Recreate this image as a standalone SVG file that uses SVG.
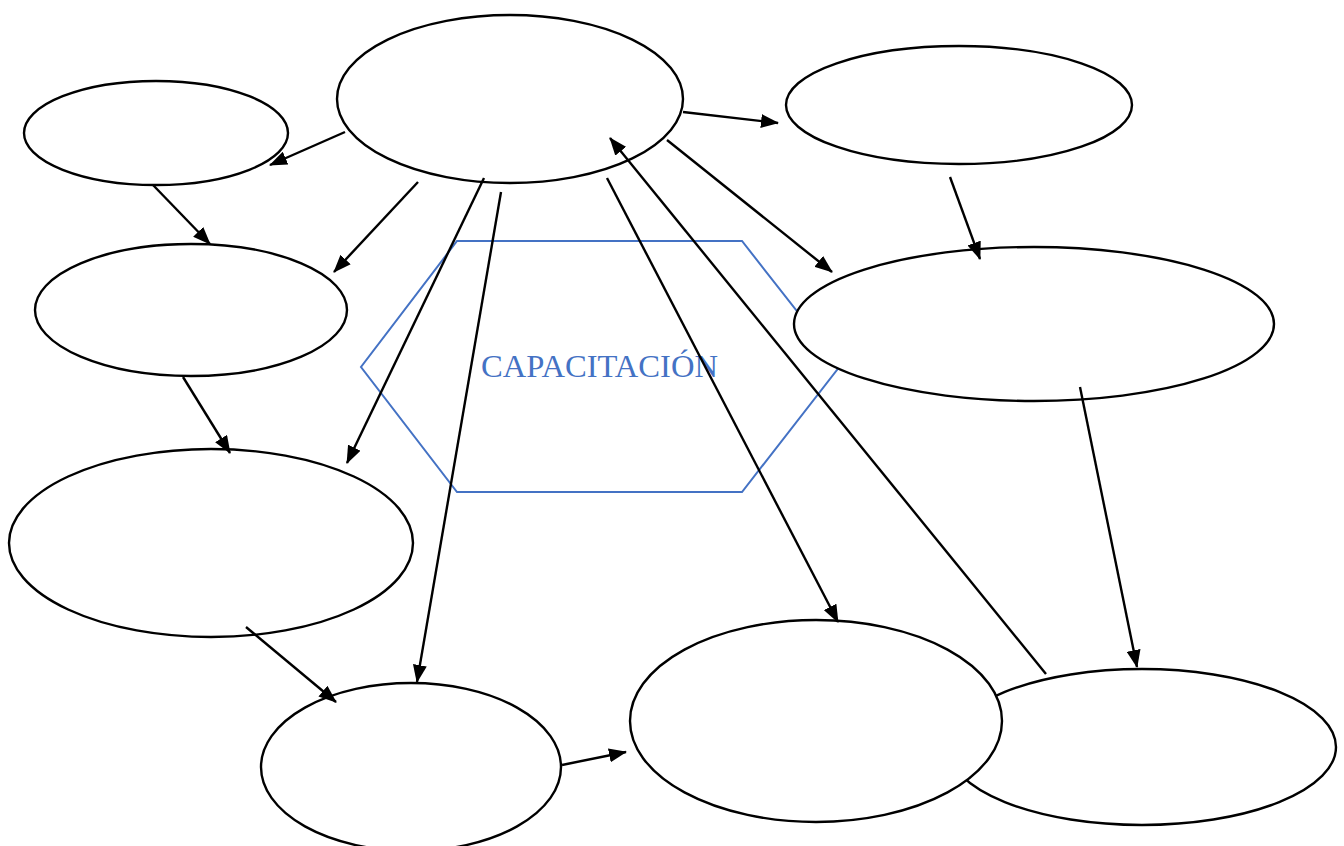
<svg xmlns="http://www.w3.org/2000/svg" width="1344" height="846" viewBox="0 0 1344 846">
  <defs>
    <marker id="arrow" viewBox="0 0 18 14" refX="17" refY="7" markerWidth="18" markerHeight="14" markerUnits="userSpaceOnUse" orient="auto">
      <path d="M0,0 L18,7 L0,14 z" fill="#000"/>
    </marker>
    <style>
      .node { fill: #fff; stroke: #000; stroke-width: 2.4; }
      .hex { fill: none; stroke: #4472C4; stroke-width: 2; }
      .label { font-family: "Liberation Serif", "Times New Roman", serif; font-size: 32.6px; fill: #4472C4; }
      .conn line { stroke: #000; stroke-width: 2.4; marker-end: url(#arrow); }
      .conn line.plain { marker-end: none; }
    </style>
  </defs>
  <rect width="1344" height="846" fill="#fff"/>

  <!-- central hexagon with its title -->
  <g id="hexagon">
    <polygon class="hex" points="457,241 742,241 840,366 742,492 457,492 361,367"/>
  </g>

  <!-- nodes -->
  <g id="n-top"><ellipse class="node" cx="510" cy="99" rx="173" ry="84"/></g>
  <g id="n-topleft"><ellipse class="node" cx="156" cy="133" rx="132" ry="52"/></g>
  <g id="n-topright"><ellipse class="node" cx="959" cy="105" rx="173" ry="59"/></g>
  <g id="n-left2"><ellipse class="node" cx="191" cy="310" rx="156" ry="66"/></g>
  <g id="n-right"><ellipse class="node" cx="1034" cy="324" rx="240" ry="77"/></g>
  <g id="n-left3"><ellipse class="node" cx="211" cy="543" rx="202" ry="94"/></g>
  <g id="n-bottom"><ellipse class="node" cx="411" cy="767" rx="150" ry="84"/></g>
  <g id="n-bottomright"><ellipse class="node" cx="1142" cy="747" rx="194" ry="78"/></g>
  <g id="n-bottommid"><ellipse class="node" cx="816" cy="721" rx="186" ry="101"/></g>

  <g id="title">
    <text class="label" x="481" y="377">CAPACITACIÓN</text>
  </g>

  <!-- connectors -->
  <g id="connectors" class="conn">
    <line x1="345" y1="132" x2="270" y2="165"/>
    <line x1="153" y1="185" x2="210" y2="244"/>
    <line x1="418" y1="182" x2="334" y2="272"/>
    <line x1="484" y1="178" x2="347" y2="463"/>
    <line x1="501" y1="192" x2="417" y2="682"/>
    <line x1="683" y1="112" x2="778" y2="123"/>
    <line x1="667" y1="140" x2="832" y2="272"/>
    <line x1="607" y1="178" x2="838" y2="622"/>
    <line x1="1046" y1="674" x2="610" y2="138"/>
    <line x1="950" y1="177" x2="980" y2="259"/>
    <line x1="1080" y1="387" x2="1137" y2="667"/>
    <line x1="183" y1="377" x2="230" y2="453"/>
    <line x1="246" y1="627" x2="336" y2="702"/>
    <line x1="562" y1="765" x2="626" y2="752"/>
  </g>
</svg>
